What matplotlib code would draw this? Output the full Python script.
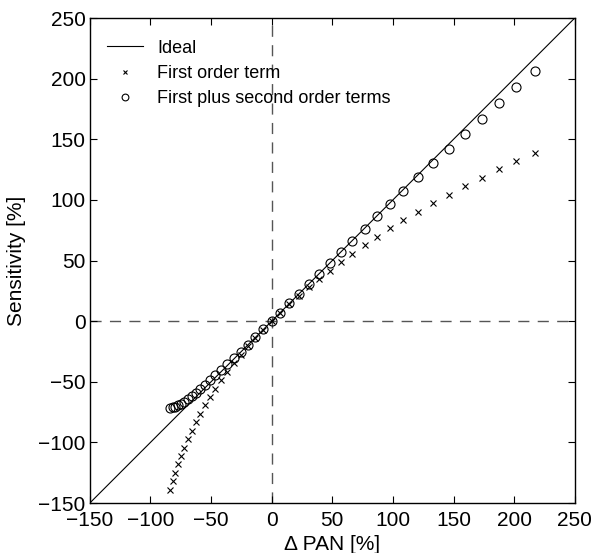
import matplotlib.pyplot as plt
import numpy as np

plt.rcParams['font.family'] = ['Liberation Sans', 'DejaVu Sans']
plt.rcParams['font.size'] = 15

# delta PAN [%] (x positions shared by both marker series)
dpan = [-84.0, -81.8, -79.9, -77.2, -74.9, -72.2, -68.9, -65.8, -62.5, -59.0,
        -55.2, -51.0, -46.5, -41.7, -36.6, -31.2, -25.6, -19.7, -13.4, -6.9,
        0.0, 7.1, 14.5, 22.3, 30.4, 38.9, 47.8, 57.0, 66.6, 76.6,
        86.8, 97.2, 108.6, 120.9, 133.2, 146.3, 159.8, 173.6, 187.6, 201.9,
        217.6]

# first order term [%]
first = [-139.0, -132.1, -125.1, -118.2, -111.2, -104.3, -97.3, -90.4, -83.4, -76.5,
         -69.5, -62.6, -55.6, -48.7, -41.7, -34.8, -27.8, -20.9, -13.9, -7.0,
         0.0, 7.0, 13.9, 20.9, 27.8, 34.8, 41.7, 48.7, 55.6, 62.6,
         69.5, 76.5, 83.4, 90.4, 97.3, 104.3, 111.2, 118.2, 125.1, 132.1,
         139.0]

# first plus second order terms [%]
second = [-71.6, -71.2, -70.5, -69.4, -68.0, -66.3, -64.3, -61.9, -59.1, -56.0,
          -52.6, -48.9, -44.8, -40.4, -35.6, -30.5, -25.1, -19.3, -13.2, -6.8,
          0.0, 7.1, 14.6, 22.4, 30.5, 39.0, 47.8, 56.9, 66.4, 76.2,
          86.4, 96.9, 107.7, 118.9, 130.3, 142.2, 154.4, 166.9, 179.7, 192.9,
          206.4]

lims = [-150, 250]
ticks = np.arange(-150, 251, 50)

fig = plt.figure(figsize=(5.95, 5.53), dpi=100)
ax = fig.add_axes([0.151, 0.0904, 0.815, 0.877])

ax.axhline(0, color='#555555', ls=(0, (8, 6)), lw=1.0, zorder=1)
ax.axvline(0, color='#555555', ls=(0, (8, 6)), lw=1.0, zorder=1)

ax.plot(lims, lims, '-k', lw=0.8, label='Ideal')
ax.plot(dpan, first, 'x', color='k', ms=4.5, mew=0.8, label='First order term')
ax.plot(dpan, second, 'o', mfc='none', mec='k', ms=6.5, mew=0.8,
        label='First plus second order terms')

ax.set_xlim(lims)
ax.set_ylim(lims)
ax.set_xticks(ticks)
ax.set_yticks(ticks)
ax.tick_params(direction='in', top=True, right=True, length=5, width=0.8)
ax.tick_params(axis='x', pad=6)
ax.tick_params(axis='y', pad=3)
for s in ax.spines.values():
    s.set_linewidth(1.0)

ax.set_xlabel('\u0394 PAN [%]', labelpad=3)
ax.set_ylabel('Sensitivity [%]', labelpad=9)

ax.legend(loc='upper left', bbox_to_anchor=(-0.01, 1.0), frameon=False,
          markerscale=0.75, fontsize=13, handlelength=2.0, labelspacing=0.45,
          borderaxespad=0.8, handletextpad=0.8)

plt.savefig('out.png', dpi=100)
